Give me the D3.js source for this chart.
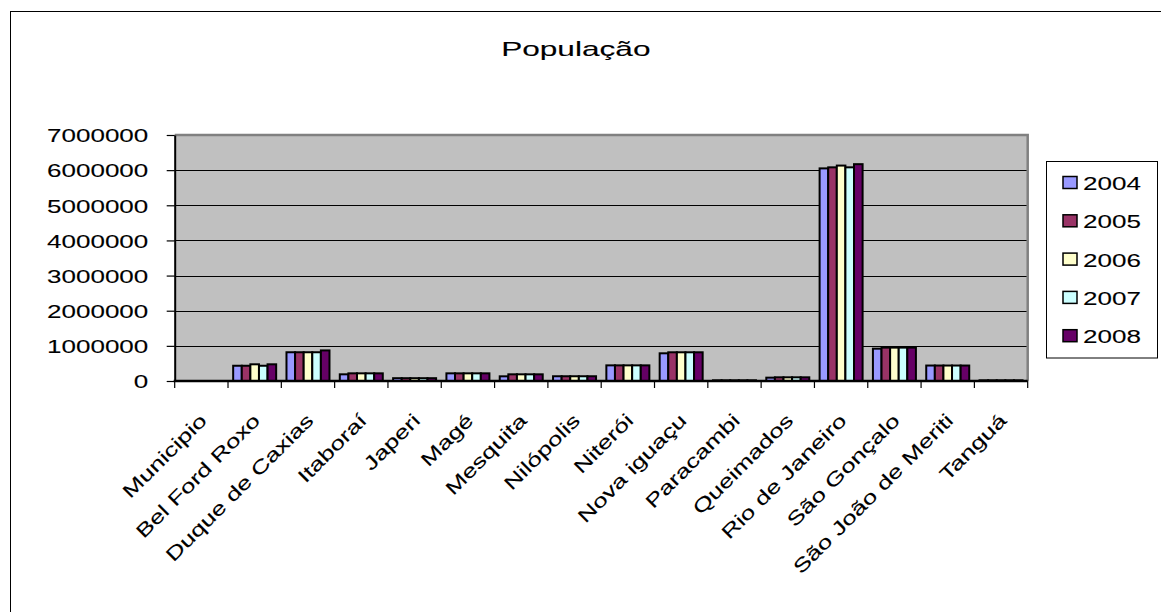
<!DOCTYPE html>
<html>
<head>
<meta charset="utf-8">
<script src="https://cdn.jsdelivr.net/npm/d3@7"></script>
<style>
  body { margin: 0; background: #fff; }
  text { font-family: "Liberation Sans", Arial, sans-serif; fill: #000; stroke: #000; stroke-width: 0.1px; }
</style>
</head>
<body>
<svg id="chart" width="1161" height="612"></svg>
<script>
// data
var municipios = ["Municipio", "Bel Ford Roxo", "Duque de Caxias", "Itaboraí", "Japeri", "Magé",
    "Mesquita", "Nilópolis", "Niterói", "Nova iguaçu", "Paracambi", "Queimados",
    "Rio de Janeiro", "São Gonçalo", "São João de Meriti", "Tanguá"];
var anos = ["2004", "2005", "2006", "2007", "2008"];
var pop2004 = [0, 434000, 818000, 190000, 80000, 218000, 133000, 135000, 445000, 788000, 20000, 95000, 6050000, 920000, 440000, 20000];
var pop2005 = [0, 434000, 818000, 218000, 80000, 218000, 190000, 135000, 445000, 817000, 20000, 105000, 6080000, 950000, 440000, 20000];
var pop2006 = [0, 475000, 818000, 218000, 80000, 218000, 190000, 135000, 445000, 817000, 20000, 105000, 6130000, 950000, 440000, 20000];
var pop2007 = [0, 434000, 818000, 218000, 80000, 218000, 190000, 135000, 445000, 817000, 20000, 105000, 6080000, 950000, 440000, 20000];
var pop2008 = [0, 475000, 870000, 218000, 80000, 218000, 190000, 135000, 445000, 817000, 20000, 105000, 6170000, 950000, 440000, 20000];
var yTicks = [0, 1000000, 2000000, 3000000, 4000000, 5000000, 6000000, 7000000];
var cores = ["#9999FF", "#993366", "#FFFFCC", "#CCFFFF", "#660066"];

var series = [pop2004, pop2005, pop2006, pop2007, pop2008];

var svg = d3.select("#chart"),
    plot = {left: 174.7, top: 135, right: 1027.7, bottom: 381},
    stretch = 1.37; // the fonts in the original are drawn wide

// outer chart frame (only top and left are inside the picture)
svg.append("rect")
    .attr("x", 10.5).attr("y", 11.5)
    .attr("width", 1200).attr("height", 700)
    .attr("fill", "#fff").attr("stroke", "#000").attr("stroke-width", 1);

// title
svg.append("text")
    .attr("transform", "translate(575.8,56) scale(1.58,1)")
    .attr("text-anchor", "middle")
    .style("font-size", "20px")
    .text("População");

var x0 = d3.scaleBand().domain(municipios).range([plot.left, plot.right]).padding(0);
var x1 = d3.scaleBand().domain(anos).range([0, x0.bandwidth()]).paddingInner(0).paddingOuter(0.6);
var y = d3.scaleLinear().domain([0, 7000000]).range([plot.bottom, plot.top]);
var color = d3.scaleOrdinal().domain(anos).range(cores);

// plot background
svg.append("rect")
    .attr("x", plot.left).attr("y", plot.top)
    .attr("width", plot.right - plot.left).attr("height", plot.bottom - plot.top)
    .attr("fill", "#C0C0C0");

// gridlines
svg.append("g").selectAll("line")
    .data(yTicks.slice(1, -1))
    .enter().append("line")
    .attr("x1", plot.left).attr("x2", plot.right)
    .attr("y1", function (d) { return Math.round(y(d)) + 0.5; })
    .attr("y2", function (d) { return Math.round(y(d)) + 0.5; })
    .attr("stroke", "#000").attr("stroke-width", 1);

// gray border top and right
svg.append("path")
    .attr("d", "M" + plot.left + "," + plot.top + "H" + plot.right + "V" + plot.bottom)
    .attr("fill", "none").attr("stroke", "#808080").attr("stroke-width", 2.5);

// bars
var groups = svg.append("g").selectAll("g")
    .data(municipios)
    .enter().append("g")
    .attr("transform", function (d) { return "translate(" + x0(d) + ",0)"; });

groups.selectAll("rect")
    .data(function (d, i) {
        return anos.map(function (ano, j) { return {ano: ano, valor: series[j][i]}; });
    })
    .enter().append("rect")
    .attr("x", function (d) { return x1(d.ano); })
    .attr("width", x1.bandwidth())
    .attr("y", function (d) { return y(d.valor); })
    .attr("height", function (d) { return plot.bottom - y(d.valor); })
    .attr("fill", function (d) { return color(d.ano); })
    .attr("stroke", "#000").attr("stroke-width", 2);

// y axis
var axisY = svg.append("g")
    .attr("transform", "translate(" + plot.left + ",0)")
    .call(d3.axisLeft(y).tickValues(yTicks).tickFormat(d3.format("d")).tickSize(8).tickSizeOuter(0));
axisY.select(".domain").attr("stroke", "#000").attr("stroke-width", 2);
axisY.selectAll(".tick line").attr("stroke", "#000").attr("stroke-width", 1.2);
axisY.selectAll("text")
    .attr("x", null).attr("dy", null)
    .attr("transform", "translate(-26.4,6.8) scale(" + stretch + ",1)")
    .attr("text-anchor", "end")
    .style("font-size", "19px").style("font-family", "Liberation Sans, Arial, sans-serif");

// x axis: ticks between categories, labels rotated
var xAxisG = svg.append("g").attr("transform", "translate(0," + plot.bottom + ")");
xAxisG.append("line")
    .attr("x1", plot.left - 1).attr("x2", plot.right)
    .attr("stroke", "#000").attr("stroke-width", 2.5);
xAxisG.selectAll(".sep")
    .data(municipios.concat(["fim"]))
    .enter().append("line")
    .attr("class", "sep")
    .attr("x1", function (d, i) { return plot.left + i * x0.step(); })
    .attr("x2", function (d, i) { return plot.left + i * x0.step(); })
    .attr("y1", 0).attr("y2", 7)
    .attr("stroke", "#000").attr("stroke-width", 1.2);
xAxisG.selectAll(".lbl")
    .data(municipios)
    .enter().append("text")
    .attr("class", "lbl")
    .attr("transform", function (d) {
        return "translate(" + (x0(d) + x0.bandwidth() / 2 - 3) + ",31) rotate(-45) scale(" + stretch + ",1)";
    })
    .attr("text-anchor", "end")
    .attr("dy", "0.72em")
    .style("font-size", "19px")
    .text(function (d) { return d; });

// legend
var legend = svg.append("g");
legend.append("rect")
    .attr("x", 1046.5).attr("y", 161.5)
    .attr("width", 111).attr("height", 196.5)
    .attr("fill", "#fff").attr("stroke", "#000").attr("stroke-width", 1);
var items = legend.selectAll(".item")
    .data(anos)
    .enter().append("g")
    .attr("class", "item")
    .attr("transform", function (d, i) { return "translate(1063," + (182.5 + i * 38.3) + ")"; });
items.append("rect")
    .attr("x", 0).attr("y", -6)
    .attr("width", 14).attr("height", 12)
    .attr("fill", function (d) { return color(d); })
    .attr("stroke", "#000").attr("stroke-width", 1.5);
items.append("text")
    .attr("transform", "translate(20,7.5) scale(" + stretch + ",1)")
    .style("font-size", "19px")
    .text(function (d) { return d; });
</script>
</body>
</html>
